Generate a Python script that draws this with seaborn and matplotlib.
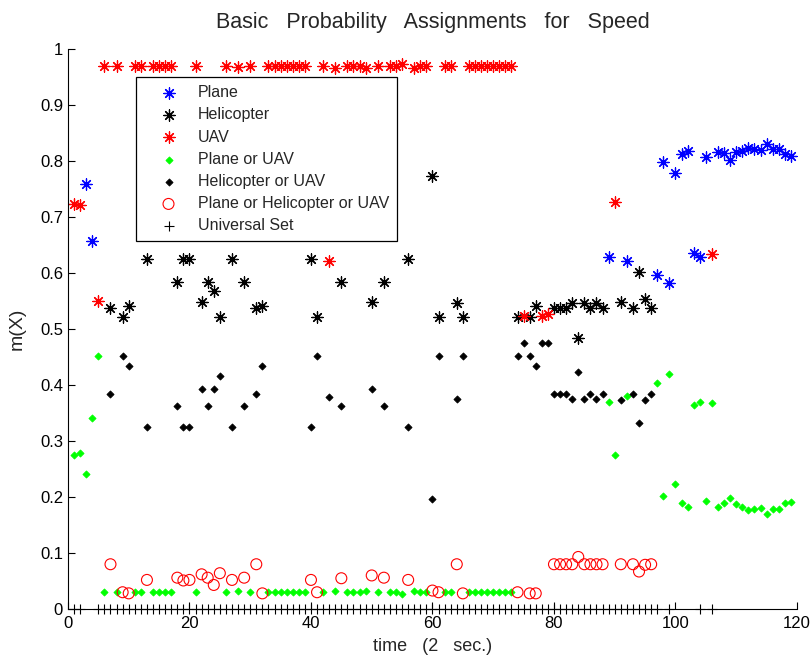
import matplotlib
matplotlib.use("Agg")
import matplotlib.pyplot as plt
import seaborn as sns

# Basic probability assignments m(X) for the speed attribute, one BPA per time step.
plane_t = [3, 4, 89, 92, 97, 98, 99, 100, 101, 102, 103, 104, 105, 107, 108, 109,
           110, 111, 112, 113, 114, 115, 116, 117, 118, 119]
plane_m = [0.760, 0.657, 0.629, 0.622, 0.596, 0.798, 0.582, 0.778, 0.8125, 0.818,
           0.636, 0.629, 0.807, 0.817, 0.815, 0.802, 0.816, 0.818, 0.824, 0.821,
           0.820, 0.8315, 0.8226, 0.821, 0.8125, 0.809]

heli_t = [7, 9, 10, 13, 18, 19, 20, 22, 23, 24, 25, 27, 29, 31, 32, 40, 41, 45, 50,
          52, 56, 60, 61, 64, 65, 74, 76, 77, 80, 81, 82, 83, 84, 85, 86, 87, 88,
          91, 93, 94, 95, 96]
heli_m = [0.537, 0.522, 0.541, 0.626, 0.585, 0.626, 0.626, 0.549, 0.585, 0.568,
          0.522, 0.626, 0.585, 0.537, 0.541, 0.626, 0.522, 0.585, 0.548, 0.585,
          0.626, 0.773, 0.522, 0.546, 0.522, 0.522, 0.522, 0.542, 0.537, 0.537,
          0.537, 0.547, 0.485, 0.547, 0.537, 0.547, 0.537, 0.549, 0.537, 0.602,
          0.553, 0.537]

uav_t = [1, 2, 5, 6, 8, 11, 12, 14, 15, 16, 17, 21, 26, 28, 30, 33, 34, 35, 36, 37,
         38, 39, 42, 43, 44, 46, 47, 48, 49, 51, 53, 54, 55, 57, 58, 59, 62, 63, 66,
         67, 68, 69, 70, 71, 72, 73, 75, 78, 79, 90, 106]
uav_m = [0.724, 0.722, 0.550, 0.970, 0.970, 0.970, 0.970, 0.970, 0.970, 0.970,
         0.970, 0.970, 0.970, 0.968, 0.970, 0.970, 0.970, 0.970, 0.970, 0.970,
         0.970, 0.970, 0.970, 0.622, 0.967, 0.970, 0.970, 0.970, 0.967, 0.970,
         0.970, 0.970, 0.974, 0.967, 0.970, 0.970, 0.970, 0.970, 0.970, 0.970,
         0.970, 0.970, 0.970, 0.970, 0.970, 0.970, 0.523, 0.523, 0.527, 0.727,
         0.634]

plane_uav_t = [1, 2, 3, 4, 5, 6, 8, 11, 12, 14, 15, 16, 17, 21, 26, 28, 30, 33, 34,
               35, 36, 37, 38, 39, 42, 44, 46, 47, 48, 49, 51, 53, 54, 55, 57, 58,
               59, 62, 63, 66, 67, 68, 69, 70, 71, 72, 73, 89, 90, 92, 97, 98, 99,
               100, 101, 102, 103, 104, 105, 106, 107, 108, 109, 110, 111, 112, 113,
               114, 115, 116, 117, 118, 119]
plane_uav_m = [0.276, 0.278, 0.242, 0.342, 0.452, 0.030, 0.030, 0.030, 0.030,
               0.030, 0.030, 0.030, 0.030, 0.030, 0.030, 0.032, 0.030, 0.030,
               0.030, 0.030, 0.030, 0.030, 0.030, 0.030, 0.030, 0.033, 0.030,
               0.030, 0.030, 0.033, 0.030, 0.030, 0.030, 0.026, 0.033, 0.030,
               0.030, 0.030, 0.030, 0.030, 0.030, 0.030, 0.030, 0.030, 0.030,
               0.030, 0.030, 0.370, 0.275, 0.380, 0.404, 0.202, 0.419, 0.223,
               0.190, 0.183, 0.364, 0.370, 0.193, 0.368, 0.183, 0.190, 0.199,
               0.1875, 0.183, 0.177, 0.179, 0.180, 0.170, 0.179, 0.179, 0.190,
               0.192]

heli_uav_t = [7, 9, 10, 13, 18, 19, 20, 22, 23, 24, 25, 27, 29, 31, 32, 40, 41, 43,
              45, 50, 52, 56, 60, 61, 64, 65, 74, 75, 76, 77, 78, 79, 80, 81, 82,
              83, 84, 85, 86, 87, 88, 91, 93, 94, 95, 96]
heli_uav_m = [0.384, 0.452, 0.434, 0.326, 0.3625, 0.326, 0.326, 0.393, 0.3625,
              0.393, 0.417, 0.326, 0.3625, 0.384, 0.434, 0.326, 0.452, 0.379,
              0.3625, 0.393, 0.3625, 0.326, 0.196, 0.452, 0.375, 0.452, 0.452,
              0.476, 0.452, 0.434, 0.476, 0.476, 0.384, 0.384, 0.384, 0.375,
              0.424, 0.375, 0.384, 0.375, 0.384, 0.373, 0.384, 0.332, 0.373,
              0.384]

phu_t = [7, 9, 10, 13, 18, 19, 20, 22, 23, 24, 25, 27, 29, 31, 32, 40, 41, 45, 50,
         52, 56, 60, 61, 64, 65, 74, 76, 77, 80, 81, 82, 83, 84, 85, 86, 87, 88,
         91, 93, 94, 95, 96]
phu_m = [0.080, 0.030, 0.028, 0.052, 0.056, 0.051, 0.052, 0.062, 0.056, 0.043,
         0.064, 0.052, 0.056, 0.080, 0.028, 0.052, 0.030, 0.055, 0.060, 0.056,
         0.052, 0.033, 0.030, 0.080, 0.028, 0.030, 0.028, 0.028, 0.080, 0.080,
         0.080, 0.080, 0.093, 0.080, 0.080, 0.080, 0.080, 0.080, 0.080, 0.067,
         0.079, 0.080]

universal_t = [1, 2, 5, 6, 7, 8, 9, 10, 11, 12, 13, 14, 15, 16, 17, 18, 19, 20, 21,
               22, 23, 24, 25, 26, 27, 28, 29, 30, 31, 32, 33, 34, 35, 36, 37, 38,
               39, 40, 41, 42, 43, 44, 45, 46, 47, 48, 49, 50, 51, 52, 53, 54, 55,
               56, 57, 58, 59, 60, 61, 62, 63, 64, 65, 66, 67, 68, 69, 70, 71, 72,
               73, 74, 75, 76, 77, 78, 79, 80, 81, 82, 83, 84, 85, 86, 87, 88, 89,
               90, 91, 92, 93, 94, 95, 96, 97, 99, 104, 106]
universal_m = [0.0] * len(universal_t)

x_ticks = [0, 20, 40, 60, 80, 100, 120]
y_ticks = [0, 0.1, 0.2, 0.3, 0.4, 0.5, 0.6, 0.7, 0.8, 0.9, 1]
y_tick_labels = ["0", "0.1", "0.2", "0.3", "0.4", "0.5", "0.6", "0.7", "0.8", "0.9", "1"]

sns.set_style("ticks")
plt.rcParams["font.family"] = ["Liberation Sans", "DejaVu Sans"]
plt.rcParams["xtick.direction"] = "in"
plt.rcParams["ytick.direction"] = "in"

fig = plt.figure(figsize=(8.12, 6.56), dpi=100)
ax = fig.add_axes([0.0837, 0.0716, 0.8978, 0.8534])

star = (8, 2, 0)
star_kw = dict(marker=star, s=66, linewidth=0.9, legend=False, ax=ax)

sns.scatterplot(x=plane_t, y=plane_m, color="#0000ff", label="Plane", **star_kw)
sns.scatterplot(x=heli_t, y=heli_m, color="black", label="Helicopter", **star_kw)
sns.scatterplot(x=uav_t, y=uav_m, color="#ff0000", label="UAV", **star_kw)
sns.scatterplot(x=plane_uav_t, y=plane_uav_m, color="#00ff00", marker="D", s=13,
                edgecolor="#00ff00", linewidth=0.6, label="Plane or UAV",
                legend=False, ax=ax)
sns.scatterplot(x=heli_uav_t, y=heli_uav_m, color="black", marker="D", s=13,
                edgecolor="black", linewidth=0.6, label="Helicopter or UAV",
                legend=False, ax=ax)
sns.scatterplot(x=phu_t, y=phu_m, marker="o", s=62, facecolor="none",
                edgecolor="#ff0000", linewidth=0.8,
                label="Plane or Helicopter or UAV", legend=False, ax=ax)
sns.scatterplot(x=universal_t, y=universal_m, color="black", marker="+", s=60,
                linewidth=0.8, label="Universal Set", legend=False, ax=ax,
                clip_on=False)

ax.set_xlim(0, 120)
ax.set_ylim(0, 1)
ax.set_xticks(x_ticks)
ax.set_yticks(y_ticks)
ax.set_yticklabels(y_tick_labels)
ax.tick_params(axis="both", labelsize=12, length=5, width=0.8, colors="black",
               direction="in")
ax.tick_params(axis="x", pad=5)
sns.despine(ax=ax)
for side in ("left", "bottom"):
    ax.spines[side].set_color("black")
    ax.spines[side].set_linewidth(0.8)

ax.set_title("Basic   Probability   Assignments   for   Speed", fontsize=15.5, pad=15)
ax.set_xlabel("time   (2   sec.)", fontsize=13, labelpad=5)
ax.set_ylabel("m(X)", fontsize=14, labelpad=10)

leg = ax.legend(loc="upper left", bbox_to_anchor=(0.093, 0.95), fontsize=11.5,
                frameon=True, fancybox=False, framealpha=1, edgecolor="black",
                scatterpoints=1, handlelength=3.1, handletextpad=0.3,
                labelspacing=0.45, borderpad=0.5, borderaxespad=0)
leg.get_frame().set_linewidth(0.9)

fig.savefig("out.png", dpi=100)
